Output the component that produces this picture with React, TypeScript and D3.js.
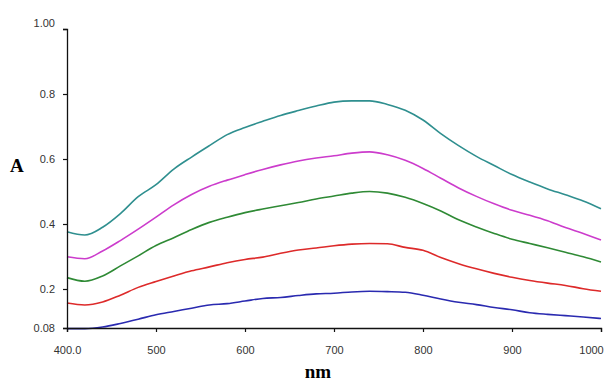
import { useEffect, useRef } from 'react';
import * as d3 from 'd3';

const wavelengths = [400, 420, 440, 460, 480, 500, 520, 540, 560, 580, 600, 620, 640, 660, 680, 700, 720, 740, 760, 780, 800, 820, 840, 860, 880, 900, 920, 940, 960, 980, 1000];

const tealValues = [0.376, 0.366, 0.39, 0.432, 0.484, 0.521, 0.569, 0.606, 0.641, 0.675, 0.697, 0.716, 0.734, 0.749, 0.763, 0.775, 0.779, 0.779, 0.768, 0.75, 0.72, 0.678, 0.641, 0.608, 0.58, 0.552, 0.529, 0.508, 0.49, 0.471, 0.447];
const magentaValues = [0.299, 0.293, 0.317, 0.349, 0.384, 0.421, 0.459, 0.491, 0.516, 0.535, 0.552, 0.568, 0.582, 0.594, 0.603, 0.61, 0.618, 0.622, 0.613, 0.596, 0.571, 0.541, 0.511, 0.485, 0.462, 0.442, 0.427, 0.41, 0.389, 0.371, 0.351];
const greenValues = [0.235, 0.224, 0.24, 0.271, 0.302, 0.334, 0.358, 0.383, 0.405, 0.421, 0.435, 0.446, 0.456, 0.466, 0.477, 0.486, 0.495, 0.5, 0.495, 0.482, 0.463, 0.44, 0.413, 0.391, 0.371, 0.353, 0.34, 0.327, 0.313, 0.299, 0.283];
const redValues = [0.157, 0.151, 0.16, 0.181, 0.205, 0.223, 0.24, 0.256, 0.268, 0.281, 0.291, 0.298, 0.31, 0.32, 0.326, 0.333, 0.338, 0.34, 0.339, 0.328, 0.319, 0.297, 0.278, 0.262, 0.248, 0.236, 0.226, 0.218, 0.211, 0.201, 0.193];
const blueValues = [0.078, 0.078, 0.083, 0.094, 0.107, 0.121, 0.131, 0.141, 0.151, 0.155, 0.163, 0.171, 0.174, 0.18, 0.185, 0.187, 0.191, 0.193, 0.192, 0.19, 0.181, 0.169, 0.159, 0.152, 0.143, 0.136, 0.127, 0.122, 0.118, 0.114, 0.109];

const xTicks = [400, 500, 600, 700, 800, 900, 1000];
const xTickLabels = ['400.0', '500', '600', '700', '800', '900', '1000'];
const yTicks = [0.08, 0.2, 0.4, 0.6, 0.8, 1.0];
const yTickLabels = ['0.08', '0.2', '0.4', '0.6', '0.8', '1.00'];

const series = [
  { name: 'teal', color: '#2f8f8f', values: tealValues },
  { name: 'magenta', color: '#cc3ccc', values: magentaValues },
  { name: 'green', color: '#2f8a35', values: greenValues },
  { name: 'red', color: '#dd2a2a', values: redValues },
  { name: 'blue', color: '#2a2ab0', values: blueValues },
];

export default function App() {
  const svgRef = useRef<SVGSVGElement>(null);

  useEffect(() => {
    if (!svgRef.current) return;
    const svg = d3.select(svgRef.current);
    svg.selectAll('*').remove();

    const width = 611;
    const height = 381;
    svg.attr('width', width).attr('height', height);

    const xScale = d3.scaleLinear().domain([400, 1000]).range([67, 601]);
    const yScale = d3.scaleLinear().domain([0.08, 1.0]).range([328, 29]);

    const line = d3.line<number>()
      .x((_d, i) => xScale(wavelengths[i]))
      .y((d) => yScale(d))
      .curve(d3.curveMonotoneX);

    series.forEach((s) => {
      svg.append('path')
        .datum(s.values)
        .attr('fill', 'none')
        .attr('stroke', s.color)
        .attr('stroke-width', 1.6)
        .attr('d', line);
    });

    const yAxis = svg.append('g')
      .attr('transform', `translate(${xScale(400)},0)`)
      .call(d3.axisLeft(yScale).tickValues(yTicks).tickSize(4).tickPadding(8)
        .tickFormat((_d, i) => yTickLabels[i]));

    const xAxis = svg.append('g')
      .attr('transform', `translate(0,${yScale(0.08)})`)
      .call(d3.axisBottom(xScale).tickValues(xTicks).tickSize(4).tickPadding(14)
        .tickFormat((_d, i) => xTickLabels[i]));

    [xAxis, yAxis].forEach((ax) => {
      ax.select('.domain').attr('stroke', '#111').attr('stroke-width', 1.3);
      ax.selectAll('.tick line').attr('stroke', '#111').attr('stroke-width', 1.2);
      ax.selectAll('text')
        .attr('fill', '#333')
        .attr('font-size', 11)
        .attr('font-family', '"Liberation Sans", Arial, sans-serif');
    });

    // last x label sits left of its tick in the original
    xAxis.selectAll<SVGTextElement, number>('.tick text')
      .attr('dx', (d) => (d === 1000 ? -10 : 0));
    // top y label sits slightly above its tick
    yAxis.selectAll<SVGTextElement, number>('.tick text')
      .attr('dy', (d) => (d === 1.0 ? '-0.2em' : '0.32em'));

    svg.append('text')
      .attr('x', 10)
      .attr('y', 172)
      .attr('font-family', '"Liberation Serif", "Times New Roman", serif')
      .attr('font-weight', 'bold')
      .attr('font-size', 19)
      .attr('fill', '#000')
      .text('A');

    svg.append('text')
      .attr('x', 318)
      .attr('y', 378)
      .attr('text-anchor', 'middle')
      .attr('font-family', '"Liberation Serif", "Times New Roman", serif')
      .attr('font-weight', 'bold')
      .attr('font-size', 19)
      .attr('fill', '#000')
      .text('nm');
  }, []);

  return (
    <svg
      ref={svgRef}
      style={{ position: 'absolute', left: 0, top: 0, display: 'block', background: '#fff' }}
    />
  );
}
